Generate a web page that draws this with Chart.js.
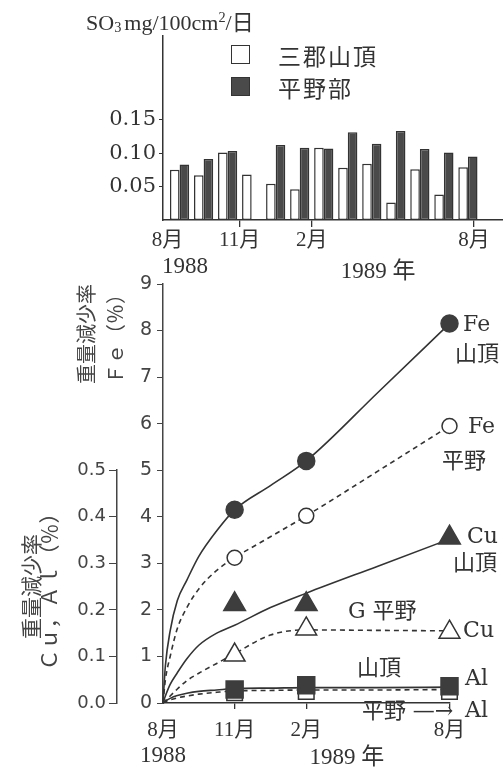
<!DOCTYPE html>
<html lang="ja">
<head>
<meta charset="utf-8">
<title>SO3 deposition and weight loss</title>
<script src="https://cdn.jsdelivr.net/npm/chart.js@4.4.1/dist/chart.umd.min.js"></script>
<style>
  html, body { margin: 0; padding: 0; background: #fff; }
  #page { position: relative; width: 503px; height: 773px; overflow: hidden; }
  canvas { position: absolute; left: 0; }
  #so3 { top: 0; }
  #loss { top: 262px; }
  #unit { position: absolute; left: 86px; top: 4px; font: 22px 'Liberation Serif', 'Noto Sans CJK JP'; color: #333; white-space: nowrap; }
  #unit sub { font-size: 65%; vertical-align: -2px; margin-right: 3px; }
  #unit sup { font-size: 65%; vertical-align: 8px; }
  #legend { position: absolute; left: 231px; top: 45px; }
  .item { position: relative; height: 32px; }
  .sw { position: absolute; left: 0; top: 0; width: 17px; height: 17px; border: 1.5px solid #333; }
  .lab { position: absolute; left: 47px; top: -5px; font: 23px 'Noto Sans CJK JP'; letter-spacing: 2px; line-height: 30px; color: #333; white-space: nowrap; }
</style>
</head>
<body>
<div id="page">
  <canvas id="so3" width="503" height="290"></canvas>
  <canvas id="loss" width="503" height="511"></canvas>
  <div id="unit">SO<sub>3</sub>mg/100cm<sup>2</sup>/日</div>
  <div id="legend"></div>
</div>
<script>
// monthly SO3 deposition, Aug 1988 .. Aug 1989
var months = ['1988-08', '1988-09', '1988-10', '1988-11', '1988-12', '1989-01', '1989-02',
              '1989-03', '1989-04', '1989-05', '1989-06', '1989-07', '1989-08'];
var so3Summit = [0.075, 0.067, 0.101, 0.068, 0.054, 0.046, 0.108, 0.078, 0.084, 0.026, 0.076, 0.038, 0.079];
var so3Plain  = [0.083, 0.091, 0.103, null, 0.112, 0.108, 0.107, 0.131, 0.114, 0.133, 0.106, 0.101, 0.095];
var so3Ticks = [0.05, 0.10, 0.15];
var stationNames = ['三郡山頂', '平野部'];

// month ticks, counted in months after Aug 1988
var monthTickLabels = ['8月', '11月', '2月', '8月'];
var barMonthTicks = [0, 3, 6, 12.75];
var lossMonthTicks = [0, 3, 6, 12];

// weight loss (%) of exposed plates, sampled in Nov, Feb, Aug
var sampleMonths = [3, 6, 12];
var feSummit = [4.15, 5.2, 8.15];
var fePlain  = [3.12, 4.02, 5.95];
var cuSummit = [0.212, 0.212, 0.355];
var cuPlain  = [0.103, 0.159, 0.152];
var alSummit = [0.029, 0.038, 0.036];
var alPlain  = [0.022, 0.025, 0.025];

var fitMonths   = [0, 0.1, 0.3, 0.6, 1, 1.5, 2.25, 3, 4.5, 6, 9, 12];
var feSummitFit = [0, 0.8, 1.55, 2.2, 2.64, 3.15, 3.7, 4.15, 4.67, 5.2, 6.67, 8.15];
var fePlainFit  = [0, 0.5, 1.0, 1.6, 2.05, 2.45, 2.85, 3.12, 3.57, 4.02, 4.98, 5.95];
var cuSummitFit = [0, 0.015, 0.04, 0.065, 0.095, 0.124, 0.15, 0.167, 0.205, 0.236, 0.294, 0.352];
var cuPlainFit  = [0, 0.005, 0.015, 0.03, 0.048, 0.064, 0.085, 0.106, 0.146, 0.157, 0.156, 0.155];
var alSummitFit = [0, 0.004, 0.01, 0.016, 0.021, 0.025, 0.028, 0.031, 0.032, 0.033, 0.033, 0.034];
var alPlainFit  = [0, 0.003, 0.007, 0.011, 0.015, 0.019, 0.023, 0.026, 0.027, 0.028, 0.028, 0.029];

var ink = '#333';
var dark = '#444';
var serif = "'Liberation Serif', 'Noto Sans CJK JP'";
var sans = "'DejaVu Sans', 'Noto Sans CJK JP'";

function pts(xs, ys) {
  return ys.map(function (y, i) { return {x: xs[i], y: y}; });
}

// writes text at (month, value) through the chart's own scales
function notesPlugin(items, axis) {
  return {
    id: 'notes',
    afterDraw: function (chart) {
      var ctx = chart.ctx, xs = chart.scales.x, ys = chart.scales[axis];
      ctx.save();
      ctx.fillStyle = ink;
      ctx.textBaseline = 'middle';
      items.forEach(function (n) {
        ctx.font = n.font;
        ctx.textAlign = n.align || 'left';
        ctx.fillText(n.text, xs.getPixelForValue(n.m), ys.getPixelForValue(n.v));
      });
      ctx.restore();
    }
  };
}

var yearFont = "23px " + serif;
var noteFont = "22px 'DejaVu Serif', 'Noto Sans CJK JP'";

// ---------- SO3 bars ----------
var barX = months.map(function (m, i) { return i + 0.5; });
var so3Chart = new Chart(document.getElementById('so3'), {
  type: 'bar',
  data: {
    datasets: [{
      label: stationNames[0],
      data: pts(barX, so3Summit),
      backgroundColor: '#fff', borderColor: ink, borderWidth: 1.5, borderSkipped: false,
      categoryPercentage: 0.8, barPercentage: 1
    }, {
      label: stationNames[1],
      data: pts(barX, so3Plain),
      backgroundColor: '#4a4a4a', borderColor: ink, borderWidth: 1.5, borderSkipped: false,
      categoryPercentage: 0.8, barPercentage: 1
    }]
  },
  options: {
    responsive: false, animation: false,
    layout: {padding: {top: 36, right: 0, bottom: 0, left: 0}},
    plugins: {legend: {display: false}, tooltip: {enabled: false}},
    scales: {
      x: {
        type: 'linear', min: -0.19, max: 13.96, offset: false,
        afterBuildTicks: function (s) { s.ticks = barMonthTicks.map(function (v) { return {value: v}; }); },
        afterFit: function (s) { s.height = 70; },
        ticks: {
          autoSkip: false, maxRotation: 0, padding: 1, color: ink,
          font: {family: serif, size: 21},
          callback: function (v, i) { return monthTickLabels[i]; }
        },
        grid: {
          offset: false, drawOnChartArea: false, tickLength: 7, lineWidth: 1.3,
          color: function (c) { return c.index === 0 ? 'rgba(0,0,0,0)' : ink; }
        },
        border: {color: ink, width: 1.5}
      },
      y: {
        min: 0, max: 0.275,
        afterBuildTicks: function (s) { s.ticks = so3Ticks.map(function (v) { return {value: v}; }); },
        afterFit: function (s) { s.width = 163; },
        ticks: {
          padding: 3, color: ink, font: {family: "'DejaVu Serif'", size: 21},
          callback: function (v) { return v.toFixed(2); }
        },
        grid: {drawOnChartArea: false, tickLength: 4, color: ink},
        border: {color: ink, width: 1.5}
      }
    }
  },
  plugins: [notesPlugin([
    {text: '1988', m: 0.73, v: -0.070, align: 'center', font: yearFont},
    {text: '1989 年', m: 8.76, v: -0.078, align: 'center', font: yearFont}
  ], 'y')]
});

// legend built from the bar datasets
var legend = document.getElementById('legend');
so3Chart.data.datasets.forEach(function (ds) {
  var item = document.createElement('div');
  item.className = 'item';
  var sw = document.createElement('span');
  sw.className = 'sw';
  sw.style.background = ds.backgroundColor;
  var lab = document.createElement('span');
  lab.className = 'lab';
  lab.textContent = ds.label;
  item.appendChild(sw);
  item.appendChild(lab);
  legend.appendChild(item);
});

// ---------- weight loss ----------
function marks(label, values, axis, style, radius, filled) {
  return {
    label: label, data: pts(sampleMonths, values), yAxisID: axis,
    showLine: false, pointStyle: style, pointRadius: radius,
    pointBackgroundColor: filled ? '#3d3d3d' : '#fff',
    pointBorderColor: filled ? '#3d3d3d' : ink, pointBorderWidth: 1.5,
    clip: false
  };
}
function curve(label, values, axis, dashed) {
  return {
    label: label, data: pts(fitMonths, values), yAxisID: axis,
    borderColor: ink, borderWidth: 1.6, borderDash: dashed ? [5, 4] : [],
    pointRadius: 0, cubicInterpolationMode: 'monotone', fill: false, clip: false
  };
}

var lossNotes = [
  {text: 'Fe', m: 12.57, v: 8.11},
  {text: '山頂', m: 12.23, v: 7.47},
  {text: 'Fe', m: 12.77, v: 5.92},
  {text: '平野', m: 11.69, v: 5.16},
  {text: 'Cu', m: 12.73, v: 3.55},
  {text: '山頂', m: 12.15, v: 2.98},
  {text: 'G 平野', m: 7.75, v: 1.94},
  {text: 'Cu', m: 12.57, v: 1.55},
  {text: '山頂', m: 8.13, v: 0.735},
  {text: 'Al', m: 12.65, v: 0.50},
  {text: '平野 —→', m: 8.33, v: -0.19},
  {text: 'Al', m: 12.65, v: -0.17}
].map(function (n) { n.font = noteFont; return n; }).concat([
  {text: '1988', m: 0, v: -1.14, align: 'center', font: yearFont},
  {text: '1989 年', m: 7.7, v: -1.18, align: 'center', font: yearFont}
]);

new Chart(document.getElementById('loss'), {
  type: 'line',
  data: {
    datasets: [
      marks('Fe 山頂', feSummit, 'fe', 'circle', 8.5, true),
      marks('Fe 平野', fePlain, 'fe', 'circle', 7.5, false),
      marks('Cu 山頂', cuSummit, 'cu', 'triangle', 12.5, true),
      marks('Cu 平野', cuPlain, 'cu', 'triangle', 12, false),
      marks('Al 山頂', alSummit, 'cu', 'rect', 12, true),
      marks('Al 平野', alPlain, 'cu', 'rect', 11, false),
      curve('Fe 山頂', feSummitFit, 'fe', false),
      curve('Fe 平野', fePlainFit, 'fe', true),
      curve('Cu 山頂', cuSummitFit, 'cu', false),
      curve('Cu 平野', cuPlainFit, 'cu', true),
      curve('Al 山頂', alSummitFit, 'cu', false),
      curve('Al 平野', alPlainFit, 'cu', true)
    ]
  },
  options: {
    responsive: false, animation: false,
    layout: {padding: {top: 22, right: 53.5, bottom: 0, left: 0}},
    plugins: {legend: {display: false}, tooltip: {enabled: false}},
    scales: {
      x: {
        type: 'linear', min: 0, max: 12,
        afterBuildTicks: function (s) { s.ticks = lossMonthTicks.map(function (v) { return {value: v}; }); },
        afterFit: function (s) { s.height = 70; },
        ticks: {
          autoSkip: false, maxRotation: 0, padding: 9, color: ink,
          font: {family: serif, size: 21},
          callback: function (v, i) { return monthTickLabels[i]; }
        },
        grid: {
          drawOnChartArea: false, tickLength: 6, lineWidth: 1.3,
          color: function (c) { return c.index === 0 ? 'rgba(0,0,0,0)' : ink; }
        },
        border: {color: ink, width: 1.5}
      },
      cu: {
        axis: 'y', position: 'left', stack: 'loss', stackWeight: 5, weight: 2,
        min: 0, max: 0.5,
        afterFit: function (s) { s.width = 117; },
        ticks: {
          stepSize: 0.1, padding: 3, color: dark, font: {family: sans, size: 18},
          callback: function (v) { return v.toFixed(1); }
        },
        grid: {drawOnChartArea: false, tickLength: 8, color: dark},
        border: {color: dark, width: 1.5},
        title: {
          display: true, text: ['重量減少率', 'Ｃｕ，Ａｌ（％）'], color: dark,
          font: {family: "'Noto Sans CJK JP'", size: 21, lineHeight: 0.85},
          padding: {top: 22, bottom: 0}
        }
      },
      cuPad: {
        axis: 'y', position: 'left', stack: 'loss', stackWeight: 4, weight: 3,
        min: 0, max: 1,
        ticks: {display: false}, grid: {display: false}, border: {display: false}
      },
      fe: {
        axis: 'y', position: 'left', weight: 1,
        min: 0, max: 9,
        afterFit: function (s) { s.width = 46; },
        ticks: {stepSize: 1, padding: 5, color: dark, font: {family: sans, size: 19}},
        grid: {drawOnChartArea: false, tickLength: 6, color: dark},
        border: {color: dark, width: 1.5},
        title: {
          display: true, align: 'end', text: ['重量減少率', 'Ｆｅ（％）'], color: dark,
          font: {family: "'Noto Sans CJK JP'", size: 20, lineHeight: 1.45},
          padding: {top: -45.5, bottom: 0}
        }
      }
    }
  },
  plugins: [notesPlugin(lossNotes, 'fe')]
});
</script>
</body>
</html>
